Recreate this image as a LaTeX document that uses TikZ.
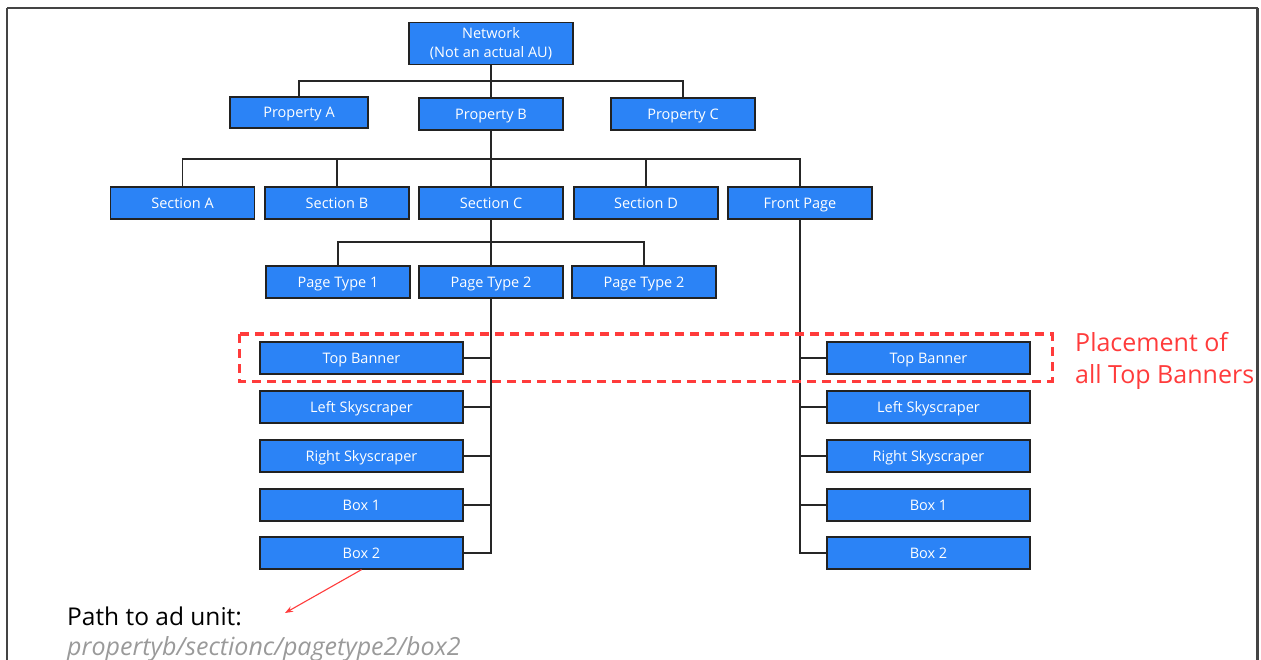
\documentclass[tikz,border=0pt]{standalone}
\usepackage{fontspec}
\setmainfont{Open Sans}
\usetikzlibrary{arrows.meta}
\definecolor{boxblue}{HTML}{2B83F6}
\definecolor{boxline}{HTML}{222222}
\definecolor{hlred}{HTML}{FF3B3B}
\definecolor{framegray}{HTML}{444444}
\definecolor{pathgray}{HTML}{9A9A9A}
\tikzset{
  boxbase/.style={draw=boxline, line width=1.3pt, fill=boxblue, text=white,
    minimum height=32pt, minimum width=144pt, inner sep=0pt,
    font=\fontsize{14.5}{17}\selectfont, align=center},
  box/.style={boxbase, text height=12.4pt, text depth=2pt},
  leaf/.style={box, minimum width=203pt},
  conn/.style={draw=black!85, line width=1.2pt},
}
\begin{document}
\begin{tikzpicture}[x=1pt,y=-1pt]
\useasboundingbox (0,0) rectangle (1261,660);
% frame
\draw[framegray, line width=2pt] (7,660) -- (7,8);
\draw[framegray, line width=1.5pt] (7,8) -- (1257.5,8);
\draw[framegray, line width=3pt] (1257.5,8) -- (1257.5,660);

% nodes
\node[boxbase, minimum width=164pt, minimum height=42pt,
      font=\fontsize{14.5}{18.5}\selectfont] (net) at (491,43.5) {Network\\(Not an actual AU)};
\node[box, minimum width=138pt, minimum height=31pt] (pa) at (299,112.5) {Property A};
\node[box] (pb) at (491,114) {Property B};
\node[box] (pc) at (683,114) {Property C};

\node[box] (sa) at (182.5,203) {Section A};
\node[box] (sb) at (337,203) {Section B};
\node[box] (sc) at (491,203) {Section C};
\node[box] (sd) at (646,203) {Section D};
\node[box] (fp) at (800,203) {Front Page};

\node[box] (pt1) at (338,282) {Page Type 1};
\node[box] (pt2) at (491,282) {Page Type 2};
\node[box] (pt3) at (644,282) {Page Type 2};

\node[leaf] (l1) at (361.5,358) {Top Banner};
\node[leaf] (l2) at (361.5,407) {Left Skyscraper};
\node[leaf] (l3) at (361.5,456) {Right Skyscraper};
\node[leaf] (l4) at (361.5,505) {Box 1};
\node[leaf] (l5) at (361.5,553) {Box 2};

\node[leaf] (r1) at (928.5,358) {Top Banner};
\node[leaf] (r2) at (928.5,407) {Left Skyscraper};
\node[leaf] (r3) at (928.5,456) {Right Skyscraper};
\node[leaf] (r4) at (928.5,505) {Box 1};
\node[leaf] (r5) at (928.5,553) {Box 2};

% connectors
\coordinate (bus1) at (0,81);
\coordinate (bus2) at (0,159);
\coordinate (bus3) at (0,242);
\draw[conn] (pa.north) -- (pa.north |- bus1) -| (pc.north);
\draw[conn] (net.south) -- (pb.north);

\draw[conn] (sa.north) -- (sa.north |- bus2) -| (fp.north);
\draw[conn] (pb.south) -- (sc.north);
\draw[conn] (sb.north) -- (sb.north |- bus2);
\draw[conn] (sd.north) -- (sd.north |- bus2);

\draw[conn] (pt1.north) -- (pt1.north |- bus3) -| (pt3.north);
\draw[conn] (sc.south) -- (pt2.north);

\draw[conn] (pt2.south) |- (l5.east);
\foreach \n in {l1,l2,l3,l4} \draw[conn] (\n.east) -- (\n.east -| pt2.south);
\draw[conn] (fp.south) |- (r5.west);
\foreach \n in {r1,r2,r3,r4} \draw[conn] (\n.west) -- (\n.west -| fp.south);

% highlight
\draw[hlred, line width=3pt, dash pattern=on 9pt off 6pt] (239,334) rectangle (1052,381);
\node[anchor=base west, inner sep=0pt, text=hlred, font=\fontsize{25}{30}\selectfont] (lbl1) at (1075,352) {Placement of};
\node[anchor=base west, inner sep=0pt, text=hlred, font=\fontsize{25}{30}\selectfont] (lbl2) at (1075,383) {all Top Banners};

% path
\node[anchor=base west, inner sep=0pt, font=\fontsize{24.5}{29}\selectfont] (pathlbl) at (67,625) {Path to ad unit:};
\node[anchor=base west, inner sep=0pt, text=pathgray, font=\fontsize{25}{30}\selectfont\itshape] (pathval) at (67,655) {propertyb/sectionc/pagetype2/box2};
\coordinate (arrowend) at (285,613);
\draw[hlred, line width=1.1pt, -{Stealth[length=8pt,width=6pt]}] (l5.south) -- (arrowend);
\end{tikzpicture}
\end{document}
